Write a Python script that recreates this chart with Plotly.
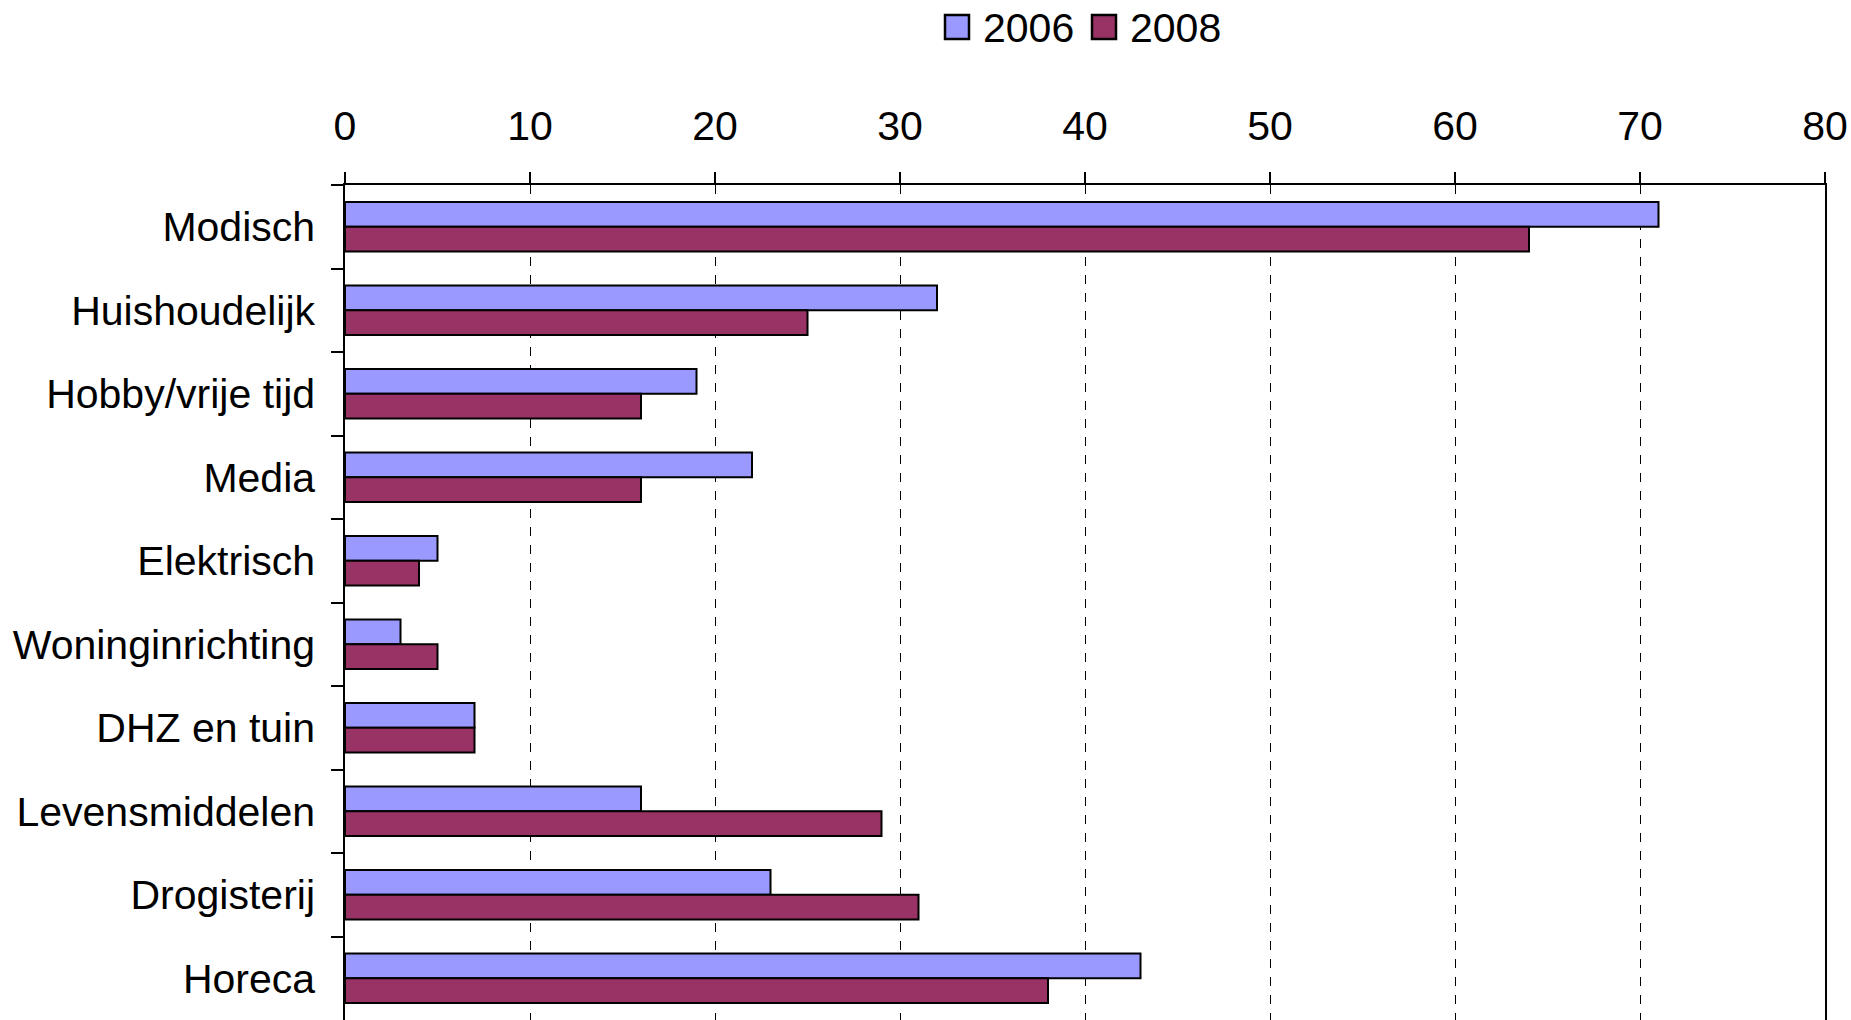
import plotly.graph_objects as go

categories = ["Modisch", "Huishoudelijk", "Hobby/vrije tijd", "Media", "Elektrisch",
              "Woninginrichting", "DHZ en tuin", "Levensmiddelen", "Drogisterij", "Horeca"]
values_2006 = [71, 32, 19, 22, 5, 3, 7, 16, 23, 43]
values_2008 = [64, 25, 16, 16, 4, 5, 7, 29, 31, 38]
x_ticks = [0, 10, 20, 30, 40, 50, 60, 70, 80]
series_names = ["2006", "2008"]
series_colors = ["#9999FF", "#993366"]

FONT = "Liberation Sans, Arial, sans-serif"
W, H = 1851, 1020
L, R, T, B = 345, 26, 185, 0
PW, PH = W - L - R, H - T - B

def px_to_paper_x(px):
    return (px - L) / PW

def px_to_paper_y(py):
    return (H - B - py) / PH

fig = go.Figure()
for name, vals, col in zip(series_names, [values_2006, values_2008], series_colors):
    fig.add_bar(y=categories, x=vals, orientation="h", name=name,
                marker=dict(color=col, line=dict(color="black", width=2)))

# custom legend (larger squares than plotly's built-in legend symbols)
legend_sq_left = [945, 1092]
legend_txt_left = [983, 1130]
sq_top, sq_bot = 15, 39
for name, col, sx, tx in zip(series_names, series_colors, legend_sq_left, legend_txt_left):
    fig.add_shape(type="rect", xref="paper", yref="paper",
                  x0=px_to_paper_x(sx), x1=px_to_paper_x(sx + 24),
                  y0=px_to_paper_y(sq_bot), y1=px_to_paper_y(sq_top),
                  fillcolor=col, line=dict(color="black", width=2.5))
    fig.add_annotation(text=name, xref="paper", yref="paper",
                       x=px_to_paper_x(tx - 2), y=px_to_paper_y(28),
                       xanchor="left", yanchor="middle", showarrow=False,
                       font=dict(size=41, color="black", family=FONT))

fig.update_layout(
    width=W, height=H,
    margin=dict(l=L, r=R, t=T, b=B),
    plot_bgcolor="white", paper_bgcolor="white",
    barmode="group", bargap=0.41, bargroupgap=0,
    font=dict(family=FONT, size=41, color="black"),
    showlegend=False,
)
fig.update_xaxes(
    side="top", range=[0, 80], tickvals=x_ticks, ticktext=[str(v) for v in x_ticks],
    showgrid=True, gridcolor="black", gridwidth=1, griddash="dash",
    showline=True, linecolor="black", linewidth=1.5,
    ticks="outside", ticklen=11, tickcolor="black", tickwidth=1.5,
    tickfont=dict(size=41), zeroline=False, ticklabelstandoff=16,
)
fig.update_yaxes(
    autorange="reversed", showline=True, linecolor="black", linewidth=1.5, mirror=True,
    ticks="outside", tickson="boundaries", ticklen=12, tickcolor="black", tickwidth=1.5,
    tickfont=dict(size=41), showgrid=False, ticklabelstandoff=20,
)

fig.write_html("out.html", config={"displayModeBar": False},
               post_script="document.body.style.margin='0';document.body.style.overflow='hidden';")
